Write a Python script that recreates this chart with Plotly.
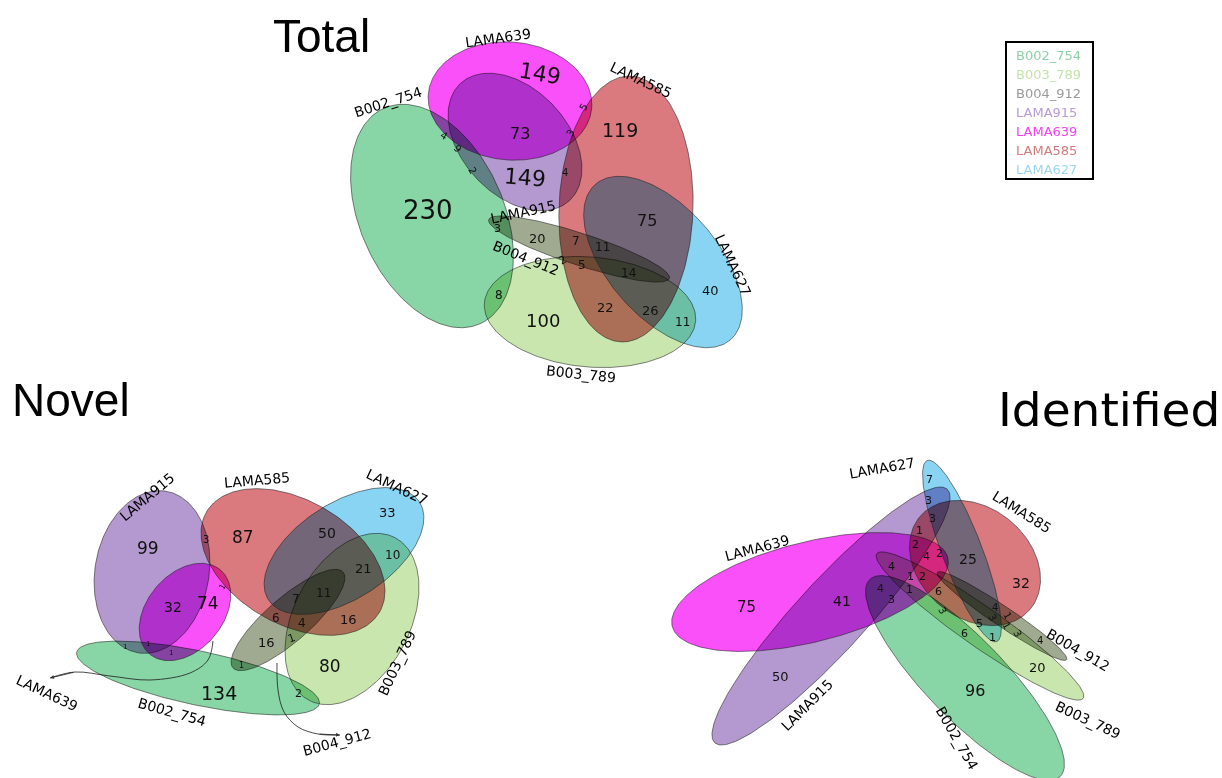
import numpy as np
import plotly.graph_objects as go

# ---------------------------------------------------------------- data
set_names = ["B002_754", "B003_789", "B004_912", "LAMA915", "LAMA639", "LAMA585", "LAMA627"]

total_counts = [149, 73, 149, 230, 119, 75, 40, 100, 5, 3, 4, 4, 9, 2, 3, 20, 7, 11, 2, 5, 14, 8, 22, 26, 11]
novel_counts = [99, 3, 87, 50, 33, 10, 21, 32, 74, 1, 7, 11, 6, 4, 16, 16, 1, 80, 1, 1, 1, 1, 134, 2]
identified_counts = [7, 3, 3, 1, 2, 4, 2, 25, 32, 4, 1, 2, 4, 1, 6, 3, 75, 41, 50, 96, 20,
                     5, 6, 1, 4, 3, 1, 1, 3, 4, 3]

panel_titles = ["Total", "Novel", "Identified"]

# ---------------------------------------------------------------- styles
# ellipses are painted with multiply blending, so overlaps darken like filters
fill_colors = {
    "B002_754": "rgb(136,213,165)",
    "B003_789": "rgb(200,230,174)",
    "B004_912": "rgb(160,170,145)",
    "LAMA915": "rgb(179,153,207)",
    "LAMA639": "rgb(250,80,250)",
    "LAMA585": "rgb(218,122,127)",
    "LAMA627": "rgb(136,212,242)",
}
legend_colors = {
    "B002_754": "#8fd0a8",
    "B003_789": "#c6e2ab",
    "B004_912": "#9a9a9a",
    "LAMA915": "#b79bd2",
    "LAMA639": "#f240f2",
    "LAMA585": "#d27c7f",
    "LAMA627": "#9cd6ee",
}
edge_color = "rgba(30,30,30,0.55)"
label_font = "DejaVu Sans"

# ---------------------------------------------------------------- layout geometry (pixels)
# ellipse: centre x, centre y, semi-axis a, semi-axis b, rotation in degrees (clockwise)
total_ellipses = {
    "B002_754": (432, 216, 118, 72, 66),
    "B003_789": (590, 312, 106, 55, 5),
    "B004_912": (579, 249, 95, 16, 18),
    "LAMA915": (515, 142, 80, 53, 47),
    "LAMA639": (510, 101, 82, 59, 5),
    "LAMA585": (626, 209, 133, 67, 92),
    "LAMA627": (663, 262, 103, 55, 49),
}
novel_ellipses = {
    "B002_754": (198, 678, 124, 27, 12),
    "B003_789": (352, 619, 92, 58, -62),
    "B004_912": (288, 620, 73, 22, -41),
    "LAMA915": (152, 572, 82, 57, 100),
    "LAMA639": (185, 612, 55, 38, -50),
    "LAMA585": (293, 562, 100, 62, 30),
    "LAMA627": (344, 551, 90, 48, -33),
}
identified_ellipses = {
    "B002_754": (965, 678, 137, 40, 46),
    "B003_789": (980, 626, 126, 20, 35),
    "B004_912": (1002, 616, 78, 10, 34),
    "LAMA915": (831, 616, 172, 35, -47.5),
    "LAMA639": (810, 592, 142, 50, -14),
    "LAMA585": (975, 563, 72, 55, 40),
    "LAMA627": (962, 551, 97, 20, 69),
}

# set name labels: x, y, angle
total_set_labels = {
    "B002_754": (388, 102, -18),
    "B003_789": (581, 374, 6),
    "B004_912": (526, 258, 22),
    "LAMA915": (523, 212, -12),
    "LAMA639": (498, 38, -8),
    "LAMA585": (641, 80, 25),
    "LAMA627": (733, 265, 65),
}
novel_set_labels = {
    "B002_754": (172, 712, 16),
    "B003_789": (397, 663, -65),
    "B004_912": (337, 742, -15),
    "LAMA915": (147, 497, -40),
    "LAMA639": (47, 693, 25),
    "LAMA585": (257, 480, -5),
    "LAMA627": (397, 487, 25),
}
identified_set_labels = {
    "B002_754": (957, 738, 60),
    "B003_789": (1088, 720, 25),
    "B004_912": (1078, 650, 30),
    "LAMA915": (807, 705, -45),
    "LAMA639": (757, 548, -15),
    "LAMA585": (1022, 512, 32),
    "LAMA627": (882, 468, -10),
}

# count label placement: x, y, font size, angle
total_count_pos = [
    (540, 73, 22, 10), (520, 133, 16, 0), (525, 177, 22, 5), (428, 210, 26, 0),
    (620, 130, 19, 0), (647, 220, 16, 0), (710, 290, 13, 0), (543, 320, 18, 0),
    (583, 107, 10, -60), (570, 133, 10, -60), (565, 172, 10, 0), (444, 135, 10, 30),
    (458, 148, 10, 45), (473, 170, 10, 60), (497, 228, 11, 0), (537, 238, 13, 0),
    (576, 241, 12, 0), (602, 247, 12, 0), (562, 260, 11, -30), (582, 265, 12, 0),
    (628, 273, 12, 0), (499, 295, 12, 0), (605, 307, 13, 0), (650, 310, 13, 0),
    (682, 322, 12, 0),
]
novel_count_pos = [
    (148, 548, 17, 0), (206, 539, 10, 0), (243, 537, 17, 0), (327, 533, 14, 0),
    (387, 512, 13, 0), (392, 555, 12, 0), (363, 568, 13, 0), (173, 607, 14, 0),
    (208, 603, 17, 0), (222, 587, 8, -60), (296, 599, 12, 0), (323, 593, 12, 0),
    (276, 618, 12, 0), (302, 623, 12, 0), (348, 619, 13, 0), (266, 642, 13, 0),
    (291, 638, 11, -20), (330, 666, 17, 0), (125, 647, 7, 0), (148, 644, 7, 0),
    (171, 653, 7, 0), (241, 665, 8, 0), (219, 693, 19, 0), (298, 693, 11, 0),
]
identified_count_pos = [
    (929, 479, 11, 0), (928, 500, 11, 0), (932, 518, 11, 0), (919, 530, 11, 0),
    (915, 544, 11, 0), (926, 556, 11, 0), (939, 553, 11, 0), (968, 559, 14, 0),
    (1021, 583, 14, 0), (891, 566, 11, 0), (910, 576, 11, 0), (922, 576, 11, 0),
    (880, 588, 11, 0), (909, 589, 11, 0), (938, 591, 11, 0), (891, 599, 11, 0),
    (746, 607, 15, 0), (842, 601, 14, 0), (780, 676, 13, 0), (975, 690, 16, 0),
    (1037, 667, 13, 0), (979, 623, 11, 0), (964, 633, 11, 0), (992, 637, 11, 0),
    (995, 607, 10, 0), (993, 617, 10, 60), (1008, 615, 10, 60), (1007, 625, 10, 60),
    (1018, 633, 10, 60), (1040, 640, 10, 0), (943, 610, 10, 60),
]

# title placement: x, y, font family, size
title_pos = [(321, 36, "Liberation Sans", 46), (71, 400, "Liberation Sans", 46),
             (1109, 409, "DejaVu Sans", 47)]

# leader lines from the Novel panel's LAMA639 and B004_912 labels
novel_leaders = [
    [(213, 641), (208, 660), (190, 673), (150, 680), (110, 676), (75, 672), (50, 678)],
    [(277, 663), (278, 690), (284, 712), (298, 727), (318, 734), (340, 735)],
]


def ellipse_xy(cx, cy, a, b, deg, n=241):
    t = np.linspace(0, 2 * np.pi, n)
    th = np.radians(deg)
    x = cx + a * np.cos(t) * np.cos(th) - b * np.sin(t) * np.sin(th)
    y = cy + a * np.cos(t) * np.sin(th) + b * np.sin(t) * np.cos(th)
    return x, y


fig = go.Figure()
annotations = []

panels = [
    (total_ellipses, total_set_labels, total_counts, total_count_pos),
    (novel_ellipses, novel_set_labels, novel_counts, novel_count_pos),
    (identified_ellipses, identified_set_labels, identified_counts, identified_count_pos),
]

for ellipses, set_labels, counts, count_pos in panels:
    for name in set_names:
        x, y = ellipse_xy(*ellipses[name])
        fig.add_trace(go.Scatter(
            x=x, y=y, mode="lines", fill="toself",
            fillcolor=fill_colors[name],
            line=dict(color=edge_color, width=1),
            hoverinfo="skip", showlegend=False,
        ))
    for name in set_names:
        lx, ly, ang = set_labels[name]
        annotations.append(dict(
            x=lx, y=ly, text=name, showarrow=False, textangle=ang,
            font=dict(family=label_font, size=14, color="black"),
            xanchor="center", yanchor="middle",
        ))
    for value, (px, py, size, ang) in zip(counts, count_pos):
        annotations.append(dict(
            x=px, y=py, text=str(value), showarrow=False, textangle=ang,
            font=dict(family=label_font, size=size, color="#111111"),
            xanchor="center", yanchor="middle",
        ))

for pts in novel_leaders:
    xs = [p[0] for p in pts]
    ys = [p[1] for p in pts]
    fig.add_trace(go.Scatter(
        x=xs, y=ys, mode="lines", line=dict(color="rgba(30,30,30,0.8)", width=1, shape="spline"),
        hoverinfo="skip", showlegend=False,
    ))
    annotations.append(dict(
        x=xs[-1], y=ys[-1], ax=xs[-2], ay=ys[-2], xref="x", yref="y", axref="x", ayref="y",
        text="", showarrow=True, arrowhead=2, arrowsize=0.8, arrowwidth=1,
        arrowcolor="rgba(30,30,30,0.8)",
    ))

for title, (tx, ty, family, size) in zip(panel_titles, title_pos):
    annotations.append(dict(
        x=tx, y=ty, text=title, showarrow=False,
        font=dict(family=family, size=size, color="black"),
        xanchor="center", yanchor="middle",
    ))

# legend box listing the sets in their colours
legend_top = 55
legend_step = 19
for i, name in enumerate(set_names):
    annotations.append(dict(
        x=1014, y=legend_top + i * legend_step, text=name, showarrow=False,
        font=dict(family=label_font, size=13, color=legend_colors[name]),
        xanchor="left", yanchor="middle",
    ))

fig.update_layout(
    width=1222, height=778,
    margin=dict(l=0, r=0, t=0, b=0),
    paper_bgcolor="white", plot_bgcolor="white",
    showlegend=False,
    annotations=annotations,
    shapes=[dict(type="rect", xref="x", yref="y", x0=1006, y0=42, x1=1093, y1=179,
                 line=dict(color="black", width=2), fillcolor="rgba(0,0,0,0)")],
)
fig.update_xaxes(range=[0, 1222], visible=False, fixedrange=True)
fig.update_yaxes(range=[778, 0], visible=False, fixedrange=True)

# multiply blending for the ellipse fills
blend_js = """
var gd = document.getElementById('{plot_id}');
gd.querySelectorAll('path.js-fill').forEach(function (p) {
    p.style.mixBlendMode = 'multiply';
});
"""

fig.write_html("out.html", post_script=blend_js)
